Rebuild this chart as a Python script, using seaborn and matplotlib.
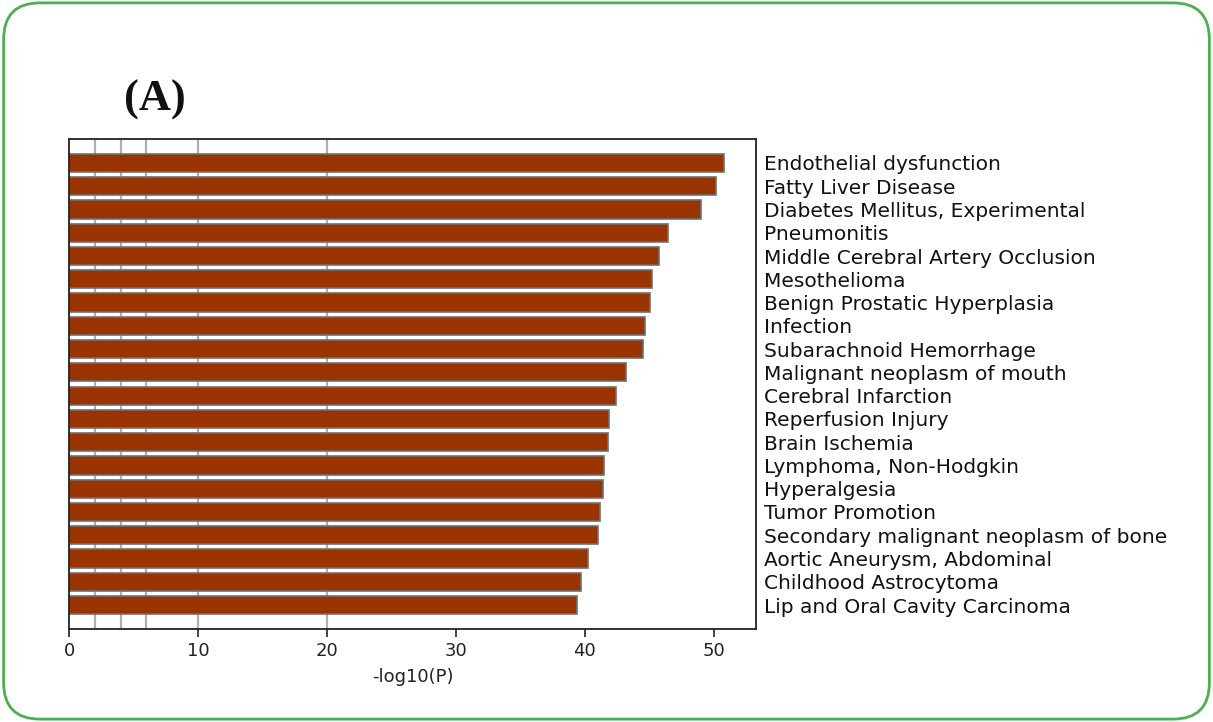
import matplotlib
matplotlib.use("Agg")
import matplotlib.pyplot as plt
from matplotlib.patches import FancyBboxPatch
import seaborn as sns
import pandas as pd

terms = [
    "Endothelial dysfunction",
    "Fatty Liver Disease",
    "Diabetes Mellitus, Experimental",
    "Pneumonitis",
    "Middle Cerebral Artery Occlusion",
    "Mesothelioma",
    "Benign Prostatic Hyperplasia",
    "Infection",
    "Subarachnoid Hemorrhage",
    "Malignant neoplasm of mouth",
    "Cerebral Infarction",
    "Reperfusion Injury",
    "Brain Ischemia",
    "Lymphoma, Non-Hodgkin",
    "Hyperalgesia",
    "Tumor Promotion",
    "Secondary malignant neoplasm of bone",
    "Aortic Aneurysm, Abdominal",
    "Childhood Astrocytoma",
    "Lip and Oral Cavity Carcinoma",
]
neg_log_p = [50.8, 50.2, 49.0, 46.5, 45.8, 45.2, 45.1, 44.7, 44.5, 43.2,
             42.4, 41.9, 41.8, 41.5, 41.4, 41.2, 41.0, 40.3, 39.7, 39.4]
grid_lines = [2, 4, 6, 10, 20]
x_ticks = [0, 10, 20, 30, 40, 50]

df = pd.DataFrame({"term": terms, "value": neg_log_p})

sns.set_style("white")
plt.rcParams["font.family"] = ["DejaVu Sans"]

fig = plt.figure(figsize=(12.13, 7.22), dpi=100)
ax = fig.add_axes([0.0569, 0.1288, 0.5664, 0.6787])

for g in grid_lines:
    ax.axvline(g, color="#b0b0b0", lw=1.6, zorder=0)

sns.barplot(data=df, x="value", y="term", orient="h", color="#993300",
            saturation=1, width=0.78, edgecolor="#707070", linewidth=1.2,
            ax=ax, zorder=2)

ax.set_xlim(0, 53.3)
ax.set_ylim(19 + 1.03, -1.03)
ax.set_xticks(x_ticks)
ax.set_xticklabels([str(t) for t in x_ticks], fontsize=13, color="#222222")
ax.set_xlabel("-log10(P)", fontsize=13, color="#222222", labelpad=6)
ax.set_ylabel("")
ax.yaxis.tick_right()
ax.tick_params(axis="y", length=0, pad=6, labelsize=14.5, labelcolor="#111111")
ax.tick_params(axis="x", direction="out", length=6, width=1.2, color="#222222",
               bottom=True, pad=3)
for s in ax.spines.values():
    s.set_color("#222222")
    s.set_linewidth(1.3)

fig.text(0.102, 0.862, "(A)", fontsize=32, fontweight="bold",
         family="Liberation Serif", color="#111111", ha="left", va="center")

border = FancyBboxPatch((0.003, 0.004), 0.994, 0.992,
                        boxstyle="round,pad=0,rounding_size=0.03",
                        transform=fig.transFigure, fill=False,
                        edgecolor="#4CAF50", linewidth=2.0, zorder=10,
                        mutation_aspect=1213 / 722)
fig.patches.append(border)

fig.savefig("out.png", dpi=100)
